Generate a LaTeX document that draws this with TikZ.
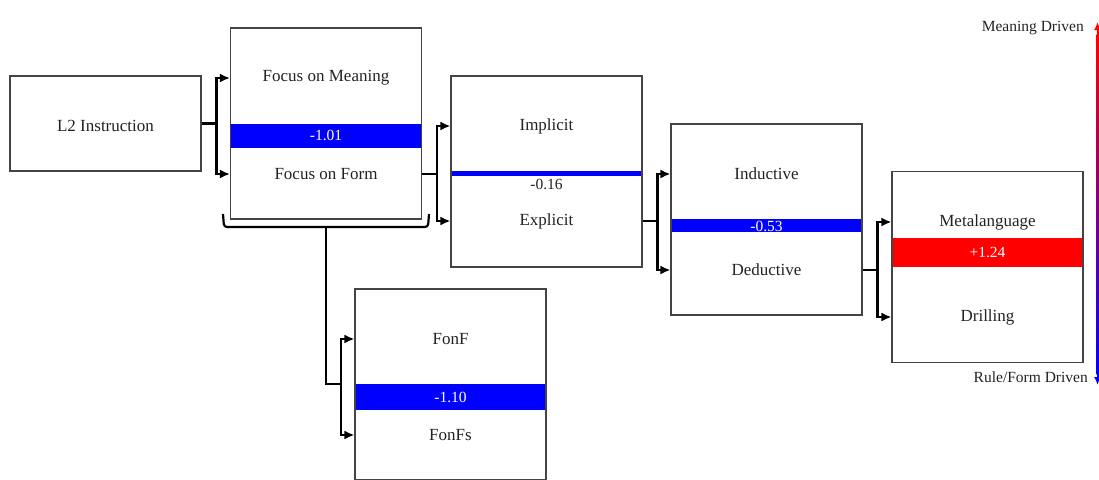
\documentclass[tikz,border=0pt]{standalone}
\usepackage{fontspec}
\setmainfont{Liberation Serif}
\usetikzlibrary{arrows.meta}

\definecolor{inkgray}{HTML}{222222}
\definecolor{framegray}{HTML}{444444}

\tikzset{
  stage/.style={draw=framegray, line width=1.1pt, minimum width=191pt,
    minimum height=191pt, inner sep=0pt},
  boxtext/.style={font=\fontsize{17}{20}\selectfont, text=inkgray, inner sep=0pt, yshift=-2pt},
  scoretext/.style={font=\fontsize{15.5}{18}\selectfont, text=white, inner sep=0pt},
  sidetext/.style={font=\fontsize{15.5}{18}\selectfont, text=inkgray, inner sep=0pt},
  scorebar/.style={fill=blue, minimum width=191pt, inner sep=0pt},
  link/.style={line width=2.2pt, -{Latex[length=10pt,width=9pt]}},
}

\begin{document}
\begin{tikzpicture}[x=1pt,y=-1pt]

  \useasboundingbox (0,0) rectangle (1099,479);
  \clip (0,0) rectangle (1099,479);

  % score bars go under the frames
  \node[scorebar, minimum height=24pt] (focusbar) at (326,135.5) {};
  \node[scorebar, minimum height=5pt] (implicitbar) at (546.5,173.5) {};
  \node[scorebar, minimum height=13pt] (inductivebar) at (766.5,225.5) {};
  \node[scorebar, fill=red, minimum height=29pt] (metabar) at (987.5,252.5) {};
  \node[scorebar, minimum height=26pt] (fonfbar) at (450.5,397) {};

  \node[draw=framegray, line width=1.1pt, minimum width=191pt, minimum height=95pt,
    inner sep=0pt] (l2) at (105.5,123.5) {};
  \foreach \name/\x/\y in {focus/326/123.5, implicit/546.5/171.5,
      inductive/766.5/219.5, meta/987.5/267, fonf/450.5/384.5} {
    \node[stage] (\name) at (\x,\y) {};
  }

  \node[boxtext] (l2txt) at (l2) {L2 Instruction};
  \node[boxtext] (meaningtxt) at (326,76) {Focus on Meaning};
  \node[boxtext] (formtxt) at (326,172) {Focus on Form};
  \node[boxtext] (implicittxt) at (546.5,124) {Implicit};
  \node[boxtext] (explicittxt) at (546.5,219) {Explicit};
  \node[boxtext] (inductivetxt) at (766.5,172) {Inductive};
  \node[boxtext] (deductivetxt) at (766.5,268) {Deductive};
  \node[boxtext] (metatxt) at (987.5,220) {Metalanguage};
  \node[boxtext] (drillingtxt) at (987.5,315) {Drilling};
  \node[boxtext] (fonftxt) at (450.5,337) {FonF};
  \node[boxtext] (fonfstxt) at (450.5,433) {FonFs};

  \node[scoretext] (focusscore) at (focusbar) {-1.01};
  \node[scoretext, text=inkgray] (implicitscore) at (546.5,184) {-0.16};
  \node[scoretext] (inductivescore) at (766.5,226) {-0.53};
  \node[scoretext] (metascore) at (metabar) {+1.24};
  \node[scoretext] (fonfscore) at (fonfbar) {-1.10};

  % forks between the stages
  \draw[link] (l2.east) -- ++(15,0) |- (focus.west |- meaningtxt);
  \draw[link] (l2.east) -- ++(15,0) |- (focus.west |- formtxt);
  \draw[link] (focus.east |- formtxt) -- ++(15,0) |- (implicit.west |- implicittxt);
  \draw[link] (focus.east |- formtxt) -- ++(15,0) |- (implicit.west |- explicittxt);
  \draw[link] (implicit.east |- explicittxt) -- ++(15,0) |- (inductive.west |- inductivetxt);
  \draw[link] (implicit.east |- explicittxt) -- ++(15,0) |- (inductive.west |- deductivetxt);
  \draw[link] (inductive.east |- deductivetxt) -- ++(15,0) |- (meta.west |- metatxt);
  \draw[link] (inductive.east |- deductivetxt) -- ++(15,0) |- (meta.west |- drillingtxt);

  % bracket under the focus box, down to FonF / FonFs
  \coordinate (bracetip) at (326,227);
  \coordinate (fonffork) at (341,384);
  \draw[line width=2.2pt, rounded corners=3pt] (223,214) -- (224,227) -- (428,227) -- (429,214);
  \draw[line width=2.2pt] (bracetip) |- (fonffork);
  \draw[link] (fonffork) |- (fonf.west |- fonftxt);
  \draw[link] (fonffork) |- (fonf.west |- fonfstxt);

  % meaning / form axis
  \node[sidetext, anchor=east] (meaningdriven) at (1084,28) {Meaning Driven};
  \node[sidetext, anchor=east] (ruledriven) at (1088,377) {Rule/Form Driven};
  \coordinate (axistop) at (1097.5,22);
  \coordinate (axisbottom) at (1097.5,385);
  \shade[top color=red, middle color=magenta!80!blue, bottom color=blue]
    (1096.5,34) rectangle (1098.5,374);
  \draw[red, line width=2pt, -{Latex[length=8pt,width=7pt]}] (1097.5,36) -- (axistop);
  \draw[blue, line width=2pt, -{Latex[length=8pt,width=7pt]}] (1097.5,372) -- (axisbottom);

\end{tikzpicture}
\end{document}
